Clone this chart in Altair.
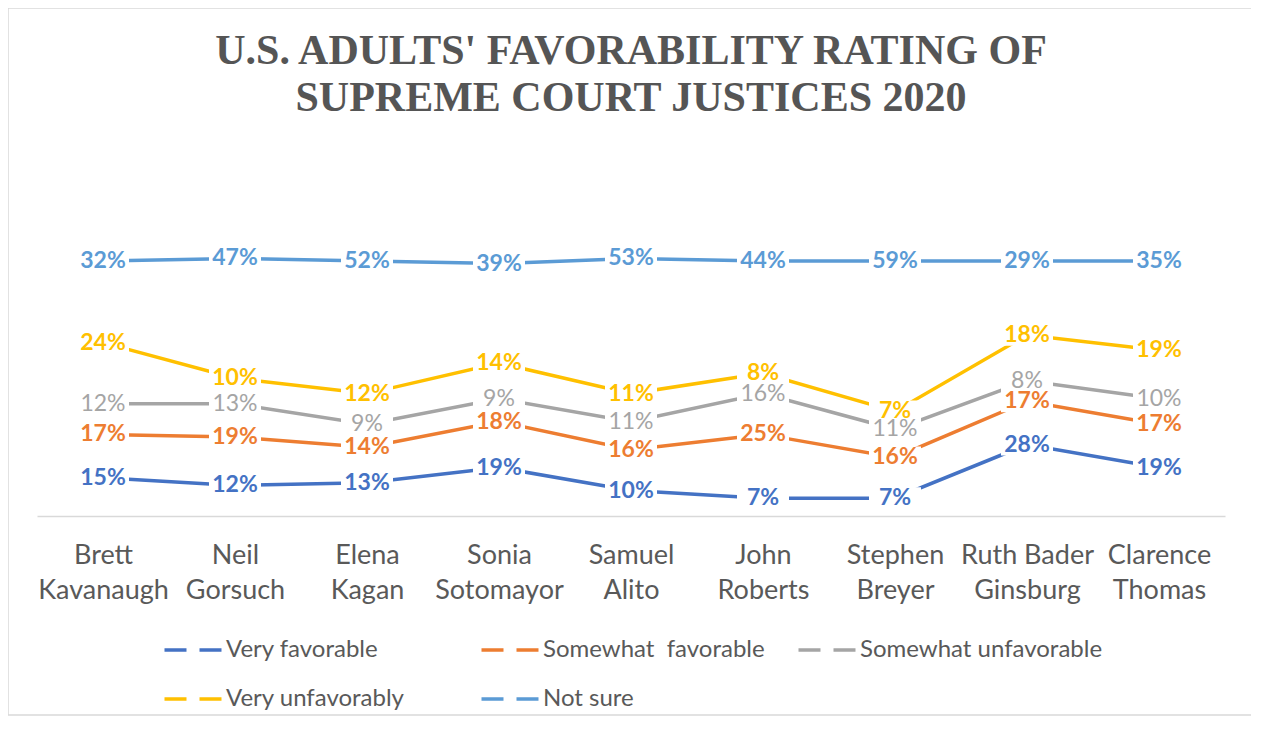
import altair as alt
import pandas as pd

justices = ["Brett Kavanaugh", "Neil Gorsuch", "Elena Kagan", "Sonia Sotomayor",
            "Samuel Alito", "John Roberts", "Stephen Breyer",
            "Ruth Bader Ginsburg", "Clarence Thomas"]
series = ["Very favorable", "Somewhat\u00a0 favorable", "Somewhat unfavorable",
          "Very unfavorably", "Not sure"]
colors = ["#4472C4", "#ED7D31", "#A5A5A5", "#FFC000", "#5B9BD5"]

very_favorable = [15, 12, 13, 19, 10, 7, 7, 28, 19]
somewhat_favorable = [17, 19, 14, 18, 16, 25, 16, 17, 17]
somewhat_unfavorable = [12, 13, 9, 9, 11, 16, 11, 8, 10]
very_unfavorably = [24, 10, 12, 14, 11, 8, 7, 18, 19]
not_sure = [32, 47, 52, 39, 53, 44, 59, 29, 35]

values = [very_favorable, somewhat_favorable, somewhat_unfavorable,
          very_unfavorably, not_sure]

rows = []
for si, (s, vals) in enumerate(zip(series, values)):
    for j, v in zip(justices, vals):
        rows.append({"justice": j, "series": s, "value": v, "order": si})
df = pd.DataFrame(rows)

W, H = 1188, 306

cscale = alt.Scale(domain=series, range=colors)

base = alt.Chart(df).transform_stack(
    stack="value", groupby=["justice"], as_=["y0", "y1"],
    sort=[alt.SortField("order", order="ascending")]
)

x = alt.X(
    "justice:N", sort=justices,
    scale=alt.Scale(type="point", padding=0.5),
    axis=alt.Axis(
        title=None, labelAngle=0, labelFont="Lato", labelFontSize=27,
        labelColor="#595959", labelPadding=26, labelLineHeight=35,
        ticks=False, tickSize=0, domainColor="#D9D9D9", domainWidth=1.5,
        grid=False, labelBaseline="top",
        labelExpr="datum.label == 'Ruth Bader Ginsburg' ? ['Ruth Bader', 'Ginsburg'] : split(datum.label, ' ')",
    ),
)
y = alt.Y("y1:Q", scale=alt.Scale(domain=[0, 120]), axis=None)

legend = alt.Legend(
    title=None, orient="none", legendX=143, legendY=426, columns=3,
    direction="horizontal",
    symbolType="M-2.5,0L2.5,0", symbolSize=557, symbolStrokeWidth=3.5,
    symbolDash=[22, 13], labelFont="Lato", labelFontSize=24,
    labelColor="#595959", gridAlign="all", columnPadding=5, rowPadding=23,
    labelOffset=18, labelLimit=500,
)

lines = base.mark_line(strokeWidth=3.5).encode(
    x=x, y=y,
    color=alt.Color("series:N", scale=cscale, sort=series, legend=legend),
)

boxes = base.mark_point(
    shape="M-1,-0.42L1,-0.42L1,0.42L-1,0.42Z", size=2704, filled=True,
    color="white", opacity=1, strokeWidth=0,
).encode(x=x, y=y)

labels = base.transform_calculate(label="datum.value + '%'")

bold_text = labels.transform_filter(
    alt.datum.series != "Somewhat unfavorable"
).mark_text(font="Lato", fontSize=23, fontWeight="bold").encode(
    x=x, y=y, text="label:N",
    color=alt.Color("series:N", scale=cscale, legend=None),
)

plain_text = labels.transform_filter(
    alt.datum.series == "Somewhat unfavorable"
).mark_text(font="Lato", fontSize=23, fontWeight="normal").encode(
    x=x, y=y, text="label:N",
    color=alt.Color("series:N", scale=cscale, legend=None),
)

border = alt.Chart(pd.DataFrame({"a": [0]})).mark_rect(
    fillOpacity=0, stroke="#D9D9D9", strokeWidth=1.5
).encode(
    x=alt.value(-29), x2=alt.value(1221), y=alt.value(-202), y2=alt.value(505)
)

chart = alt.layer(border, lines, boxes, bold_text, plain_text).properties(
    width=W, height=H,
    title=alt.TitleParams(
        ["U.S. ADULTS' FAVORABILITY RATING OF", "SUPREME COURT JUSTICES 2020"],
        font="Liberation Serif", fontSize=42, fontWeight="bold",
        color="#555555", lineHeight=47, anchor="middle", frame="group",
        offset=-155, baseline="bottom",
    ),
    autosize=alt.AutoSizeParams(type="none"),
    padding={"left": 29, "top": 202, "right": 26, "bottom": 200},
    background="white",
).configure_view(stroke=None)

chart.save("out.html", embed_options={"renderer": "svg", "actions": False})
